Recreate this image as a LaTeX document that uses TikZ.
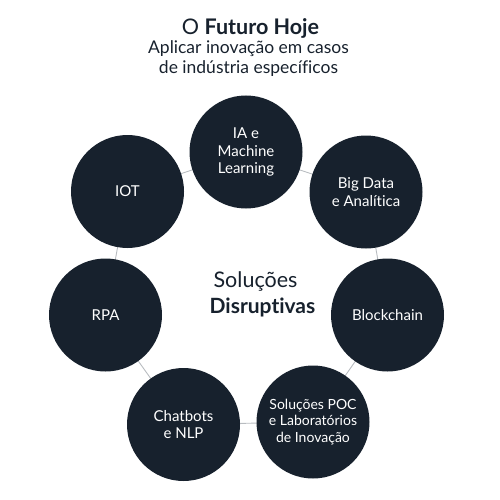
\documentclass[tikz,border=0pt]{standalone}
\usepackage{fontspec}
\setmainfont[Ligatures=NoCommon]{Lato}
\definecolor{navy}{HTML}{17212D}
\definecolor{ring}{HTML}{B8BCC0}
\begin{document}
\begin{tikzpicture}[x=1pt,y=-1pt,
  bubble/.style={circle,fill=navy,minimum size=113pt,inner sep=0pt,text=white,align=center,
     font=\fontsize{15}{17.5}\selectfont},
  link/.style={draw=ring,line width=0.9pt},
  subtxt/.style={font=\fontsize{17.5}{20}\selectfont,text=navy,anchor=base}]
\useasboundingbox (0,0) rectangle (500,500);
\node[font=\fontsize{21.5}{24}\selectfont,text=navy,anchor=base] (title) at (250.5,35) {O \textbf{Futuro Hoje}};
\node[subtxt] (sub1) at (248.5,54) {Aplicar inovação em casos};
\node[subtxt] (sub2) at (248.5,74) {de indústria específicos};
\coordinate (cIA) at (246,152);
\coordinate (cBD) at (366,192);
\coordinate (cBC) at (387.5,315);
\coordinate (cPOC) at (313,422);
\coordinate (cCB) at (183.5,424.5);
\coordinate (cRPA) at (105.5,315);
\coordinate (cIOT) at (127.5,191.5);
\draw[link] (cIA) -- (cBD) -- (cBC) -- (cPOC) -- (cCB) -- (cRPA) -- (cIOT) -- cycle;
\node[bubble] (ia) at (cIA) {IA e\\Machine\\Learning};
\node[bubble] (bd) at (cBD) {Big Data\\e Analítica};
\node[bubble] (bc) at (cBC) {Blockchain};
\node[bubble,font=\fontsize{14}{16.5}\selectfont] (poc) at (cPOC) {Soluções POC\\e Laboratórios\\de Inovação};
\node[bubble] (cb) at (cCB) {Chatbots\\e NLP};
\node[bubble] (rpa) at (cRPA) {RPA};
\node[bubble] (iot) at (cIOT) {IOT};
\node[font=\fontsize{21.5}{24}\selectfont,text=navy,anchor=base] (sol) at (255.5,287) {Soluções};
\node[font=\fontsize{21}{24}\selectfont\bfseries,text=navy,anchor=base] (dis) at (262.5,313) {Disruptivas};
\end{tikzpicture}
\end{document}
